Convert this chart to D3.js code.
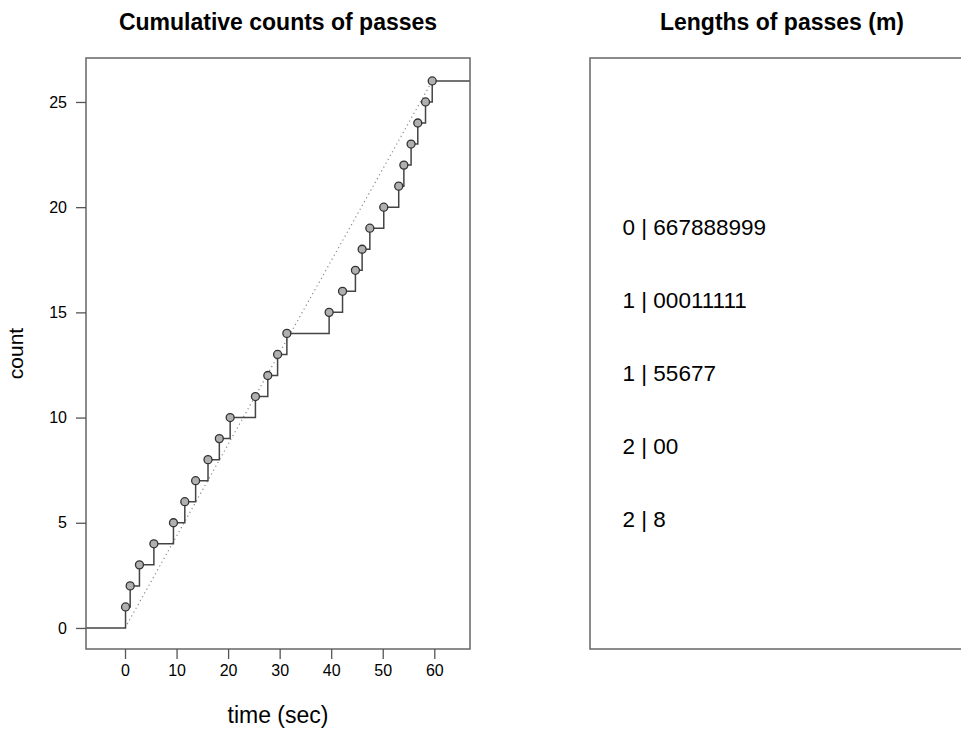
<!DOCTYPE html>
<html>
<head>
<meta charset="utf-8">
<script src="https://cdn.jsdelivr.net/npm/d3@7"></script>
<style>
  body { margin: 0; background: #fff; }
  text { font-family: "Liberation Sans", Arial, sans-serif; fill: #000; }
</style>
</head>
<body>
<div id="chart"></div>
<script>
// times (sec) at which each pass happened
var passTimes = [0.1, 1.0, 2.8, 5.6, 9.4, 11.6, 13.7, 16.1, 18.3, 20.4, 25.3, 27.7, 29.6,
                 31.4, 39.6, 42.2, 44.7, 46.0, 47.5, 50.2, 53.1, 54.1, 55.5, 56.8, 58.3, 59.6];
var passCounts = passTimes.map(function (t, i) { return i + 1; });
var xTicks = [0, 10, 20, 30, 40, 50, 60];
var yTicks = [0, 5, 10, 15, 20, 25];
var stemRows = ["0 | 667888999", "1 | 00011111", "1 | 55677", "2 | 00", "2 | 8"];

var PassChart = function()
{
  this.WIDTH = 961;
  this.HEIGHT = 729;
  this.TOP = 58;
  this.BOTTOM = 649;
  this.svg = d3.select("#chart").append("svg")
               .attr("width", this.WIDTH)
               .attr("height", this.HEIGHT);
};

PassChart.prototype.drawSteps = function()
{
  var svg = this.svg;
  var left = 86, right = 470;
  var x = d3.scaleLinear().domain([-7.57, 66.93]).range([left, right]);
  var y = d3.scaleLinear().domain([-1.0, 27.09]).range([this.BOTTOM, this.TOP]);

  // step function
  var pts = [[x.domain()[0], 0]];
  passTimes.forEach(function (t, i) { pts.push([t, passCounts[i]]); });
  pts.push([x.domain()[1], passCounts[passCounts.length - 1]]);

  var line = d3.line()
               .x(function (d) { return x(d[0]); })
               .y(function (d) { return y(d[1]); })
               .curve(d3.curveStepAfter);

  // constant rate reference
  var last = passTimes.length - 1;
  svg.append("line")
     .attr("x1", x(0)).attr("y1", y(0))
     .attr("x2", x(passTimes[last])).attr("y2", y(passCounts[last]))
     .attr("stroke", "#8a8a8a")
     .attr("stroke-width", 1.2)
     .attr("stroke-dasharray", "1.2,3.2");

  svg.append("path")
     .attr("d", line(pts))
     .attr("fill", "none")
     .attr("stroke", "#444")
     .attr("stroke-width", 1.5);

  svg.selectAll("circle.pass")
     .data(passTimes)
     .enter().append("circle")
     .attr("class", "pass")
     .attr("cx", function (t) { return x(t); })
     .attr("cy", function (t, i) { return y(passCounts[i]); })
     .attr("r", 4)
     .attr("fill", "#b0b0b0")
     .attr("stroke", "#333")
     .attr("stroke-width", 1.3);

  // box
  svg.append("rect")
     .attr("x", left).attr("y", this.TOP)
     .attr("width", right - left).attr("height", this.BOTTOM - this.TOP)
     .attr("fill", "none")
     .attr("stroke", "#666")
     .attr("stroke-width", 1.5);

  // axes
  var xAxis = d3.axisBottom(x).tickValues(xTicks).tickSize(10).tickPadding(6);
  var gx = svg.append("g").attr("transform", "translate(0," + this.BOTTOM + ")").call(xAxis);
  var yAxis = d3.axisLeft(y).tickValues(yTicks).tickSize(10).tickPadding(9);
  var gy = svg.append("g").attr("transform", "translate(" + left + ",0)").call(yAxis);

  [gx, gy].forEach(function (g) {
    g.select(".domain").remove();
    g.selectAll(".tick line").attr("stroke", "#555").attr("stroke-width", 1.3);
    g.selectAll(".tick text").style("font-size", "16px").attr("fill", "#111");
  });

  svg.append("text")
     .attr("x", (left + right) / 2).attr("y", 30)
     .attr("text-anchor", "middle")
     .style("font-size", "23px").style("font-weight", "bold")
     .text("Cumulative counts of passes");

  svg.append("text")
     .attr("x", (left + right) / 2).attr("y", 723)
     .attr("text-anchor", "middle")
     .style("font-size", "23px")
     .text("time (sec)");

  svg.append("text")
     .attr("transform", "translate(23," + ((this.TOP + this.BOTTOM) / 2) + ") rotate(-90)")
     .attr("text-anchor", "middle")
     .style("font-size", "21px")
     .text("count");
}

PassChart.prototype.drawStem = function()
{
  var svg = this.svg;
  var left = 590, right = 974;

  svg.append("rect")
     .attr("x", left).attr("y", this.TOP)
     .attr("width", right - left).attr("height", this.BOTTOM - this.TOP)
     .attr("fill", "none")
     .attr("stroke", "#666")
     .attr("stroke-width", 1.5);

  var rowY = d3.scalePoint().domain(d3.range(stemRows.length)).range([226.7, 519]);

  svg.selectAll("text.stem")
     .data(stemRows)
     .enter().append("text")
     .attr("class", "stem")
     .attr("x", left + 32.5)
     .attr("y", function (d, i) { return rowY(i); })
     .attr("dy", "0.35em")
     .attr("xml:space", "preserve")
     .style("white-space", "pre")
     .style("font-size", "22.5px")
     .text(function (d) { return d; });

  svg.append("text")
     .attr("x", (left + right) / 2).attr("y", 30)
     .attr("text-anchor", "middle")
     .style("font-size", "23px").style("font-weight", "bold")
     .text("Lengths of passes (m)");
}

var chart = new PassChart();
chart.drawSteps();
chart.drawStem();
</script>
</body>
</html>
